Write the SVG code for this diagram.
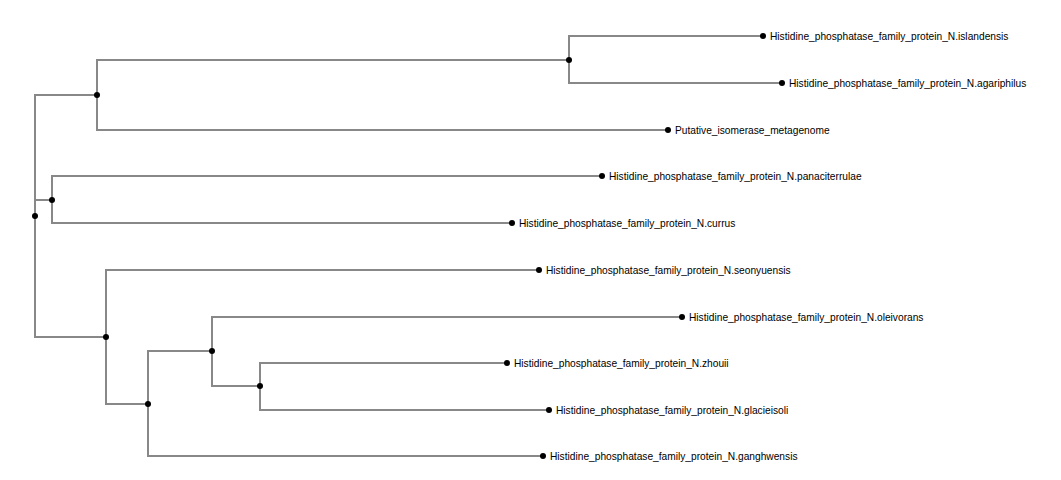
<svg xmlns="http://www.w3.org/2000/svg" width="1061" height="480" viewBox="0 0 1061 480">
<style>
.link{fill:none;stroke:#888;stroke-width:2}
.dot{fill:#000}
text{font-family:"Liberation Sans",Arial,sans-serif;font-size:10.2px;fill:#000}
</style>
<rect width="1061" height="480" fill="#fff"/>
<g id="connectors">
<path class="link" d="M35,216V95H97"/>
<path class="link" d="M35,216V200H52"/>
<path class="link" d="M35,216V337H106"/>
<path class="link" d="M97,95V60H569"/>
<path class="link" d="M97,95V130H668"/>
<path class="link" d="M569,60V36H763"/>
<path class="link" d="M569,60V83H782"/>
<path class="link" d="M52,200V176H602"/>
<path class="link" d="M52,200V223H512"/>
<path class="link" d="M106,337V270H539"/>
<path class="link" d="M106,337V404H148"/>
<path class="link" d="M148,404V351H212"/>
<path class="link" d="M148,404V456H543"/>
<path class="link" d="M212,351V317H682"/>
<path class="link" d="M212,351V386H260"/>
<path class="link" d="M260,386V363H507"/>
<path class="link" d="M260,386V410H549"/>
</g>
<g id="n_root"><circle class="dot" cx="35" cy="216" r="3"/></g>
<g id="n_A"><circle class="dot" cx="97" cy="95" r="3"/></g>
<g id="n_B"><circle class="dot" cx="52" cy="200" r="3"/></g>
<g id="n_C"><circle class="dot" cx="106" cy="337" r="3"/></g>
<g id="n_D"><circle class="dot" cx="148" cy="404" r="3"/></g>
<g id="n_E"><circle class="dot" cx="212" cy="351" r="3"/></g>
<g id="n_F"><circle class="dot" cx="260" cy="386" r="3"/></g>
<g id="n_G"><circle class="dot" cx="569" cy="60" r="3"/></g>
<g id="leaf_islandensis"><circle class="dot" cx="763" cy="36" r="3"/><text x="770" y="39.5">Histidine_phosphatase_family_protein_N.islandensis</text></g>
<g id="leaf_agariphilus"><circle class="dot" cx="782" cy="83" r="3"/><text x="789" y="86.5">Histidine_phosphatase_family_protein_N.agariphilus</text></g>
<g id="leaf_putative"><circle class="dot" cx="668" cy="130" r="3"/><text x="675" y="133.5">Putative_isomerase_metagenome</text></g>
<g id="leaf_panaciterrulae"><circle class="dot" cx="602" cy="176" r="3"/><text x="609" y="179.5">Histidine_phosphatase_family_protein_N.panaciterrulae</text></g>
<g id="leaf_currus"><circle class="dot" cx="512" cy="223" r="3"/><text x="519" y="226.5">Histidine_phosphatase_family_protein_N.currus</text></g>
<g id="leaf_seonyuensis"><circle class="dot" cx="539" cy="270" r="3"/><text x="546" y="273.5">Histidine_phosphatase_family_protein_N.seonyuensis</text></g>
<g id="leaf_oleivorans"><circle class="dot" cx="682" cy="317" r="3"/><text x="689" y="320.5">Histidine_phosphatase_family_protein_N.oleivorans</text></g>
<g id="leaf_zhouii"><circle class="dot" cx="507" cy="363" r="3"/><text x="514" y="366.5">Histidine_phosphatase_family_protein_N.zhouii</text></g>
<g id="leaf_glacieisoli"><circle class="dot" cx="549" cy="410" r="3"/><text x="556" y="413.5">Histidine_phosphatase_family_protein_N.glacieisoli</text></g>
<g id="leaf_ganghwensis"><circle class="dot" cx="543" cy="456" r="3"/><text x="550" y="459.5">Histidine_phosphatase_family_protein_N.ganghwensis</text></g>
</svg>
